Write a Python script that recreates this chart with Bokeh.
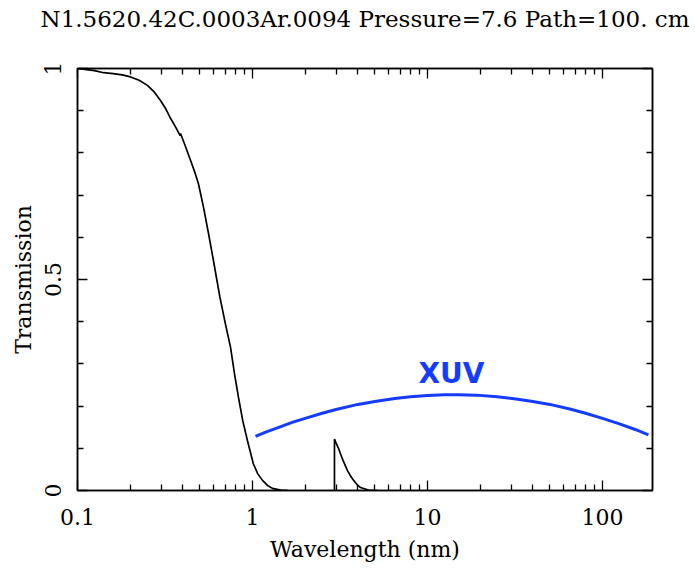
from bokeh.plotting import figure
from bokeh.models import FixedTicker, LogAxis, LinearAxis, Label, Range1d
from bokeh.embed import file_html
from bokeh.resources import INLINE

# ---- data ----
title_text = "N1.5620.42C.0003Ar.0094 Pressure=7.6 Path=100. cm"

# transmission, low-wavelength part
trans_wl_1 = [0.1, 0.11, 0.125, 0.141, 0.16, 0.18, 0.201, 0.225, 0.251, 0.275,
              0.298, 0.32, 0.340, 0.365, 0.386, 0.388, 0.41, 0.443, 0.47, 0.491,
              0.525, 0.56, 0.598, 0.65, 0.70, 0.749, 0.79, 0.832, 0.88, 0.936,
              1.01, 1.07, 1.14, 1.22, 1.30, 1.45, 1.6]
trans_val_1 = [1.0, 0.998, 0.995, 0.990, 0.988, 0.985, 0.980, 0.972, 0.960, 0.944,
               0.924, 0.904, 0.882, 0.860, 0.841, 0.846, 0.820, 0.782, 0.752, 0.727,
               0.671, 0.610, 0.545, 0.460, 0.395, 0.339, 0.275, 0.220, 0.165, 0.118,
               0.064, 0.040, 0.024, 0.012, 0.005, 0.001, 0.0]

# transmission, window above the carbon edge
trans_wl_2 = [2.94, 2.94, 3.0, 3.1, 3.18, 3.3, 3.49, 3.65, 3.78, 4.0, 4.14, 4.6, 5.2]
trans_val_2 = [0.0, 0.122, 0.113, 0.100, 0.087, 0.070, 0.047, 0.033, 0.024, 0.012,
               0.007, 0.001, 0.0]

# XUV band curve
xuv_wl = [1.04, 1.2, 1.4, 1.7, 2, 2.5, 3, 4, 5, 6.5, 8, 10, 12.5, 15, 19, 25, 32,
          40, 50, 65, 80, 100, 125, 155, 183]
xuv_val = [0.128, 0.139, 0.149, 0.162, 0.171, 0.183, 0.192, 0.204, 0.211, 0.218,
           0.222, 0.225, 0.227, 0.227, 0.226, 0.222, 0.217, 0.211, 0.204, 0.193,
           0.183, 0.171, 0.158, 0.144, 0.132]
xuv_label = "XUV"
xuv_label_pos = (13.7, 0.277)

x_ticks = [0.1, 1, 10, 100]
x_tick_labels = ["0.1", "1", "10", "100"]
x_minor = [m * d for d in [0.1, 1, 10, 100] for m in range(2, 10)]
y_ticks = [0, 0.5, 1]
y_tick_labels = ["0", "0.5", "1"]
y_minor = [0.1, 0.2, 0.3, 0.4, 0.6, 0.7, 0.8, 0.9]

SERIF = "DejaVu Serif"
FS = "22px"

p = figure(width=695, height=572, x_axis_type="log",
           x_range=Range1d(0.1, 193), y_range=Range1d(0, 1),
           output_backend="svg", toolbar_location=None,
           min_border_left=77, min_border_right=43, min_border_top=68,
           min_border_bottom=82)
p.background_fill_color = "white"
p.border_fill_color = "white"
p.xgrid.visible = False
p.ygrid.visible = False
p.outline_line_color = "black"
p.outline_line_width = 1.5

p.title.text = title_text
p.title.align = "center"
p.title.vertical_align = "top"
p.title.standoff = 3
p.title.offset = -3
p.title.text_font = SERIF
p.title.text_font_size = "23px"
p.title.text_font_style = "normal"
p.title.text_color = "black"

xt = FixedTicker(ticks=x_ticks, minor_ticks=x_minor)
yt = FixedTicker(ticks=y_ticks, minor_ticks=y_minor)

def style_axis(ax, labels):
    ax.axis_line_color = "black"
    ax.axis_line_width = 1.5
    ax.major_tick_line_color = "black"
    ax.minor_tick_line_color = "black"
    ax.major_tick_line_width = 1.3
    ax.minor_tick_line_width = 1.3
    ax.major_tick_in = 10
    ax.major_tick_out = 0
    ax.minor_tick_in = 6
    ax.minor_tick_out = 0
    ax.major_label_text_font = SERIF
    ax.major_label_text_font_size = FS
    ax.major_label_text_color = "black"
    ax.axis_label_text_font = SERIF
    ax.axis_label_text_font_size = FS
    ax.axis_label_text_font_style = "normal"
    ax.axis_label_text_color = "black"
    if not labels:
        ax.major_label_text_alpha = 0
        ax.major_label_text_font_size = "8px"
        ax.major_label_standoff = 0

xa = p.xaxis[0]
xa.ticker = xt
xa.major_label_overrides = {t: l for t, l in zip(x_ticks, x_tick_labels)}
style_axis(xa, True)
xa.axis_label = "Wavelength (nm)"
xa.major_label_standoff = 18
xa.axis_label_standoff = 9

ya = p.yaxis[0]
ya.ticker = yt
ya.major_label_overrides = {t: l for t, l in zip(y_ticks, y_tick_labels)}
style_axis(ya, True)
ya.axis_label = "Transmission"
ya.major_label_orientation = "vertical"
ya.major_label_standoff = 17
ya.axis_label_standoff = 6

top = LogAxis(ticker=FixedTicker(ticks=x_ticks, minor_ticks=x_minor))
style_axis(top, False)
top.axis_label = "."
top.axis_label_text_alpha = 0
top.axis_label_standoff = 14
p.add_layout(top, "above")
right = LinearAxis(ticker=FixedTicker(ticks=y_ticks, minor_ticks=y_minor))
style_axis(right, False)
p.add_layout(right, "right")

p.line(trans_wl_1, trans_val_1, line_color="black", line_width=1.7)
p.line(trans_wl_2, trans_val_2, line_color="black", line_width=1.7)
p.line(xuv_wl, xuv_val, line_color="#143cff", line_width=3)

p.add_layout(Label(x=xuv_label_pos[0], y=xuv_label_pos[1], text=xuv_label,
                   text_align="center", text_baseline="middle",
                   text_font="DejaVu Sans", text_font_style="bold",
                   text_font_size="28px", text_color="#143cff"))

open("out.html", "w").write(file_html(p, INLINE))
